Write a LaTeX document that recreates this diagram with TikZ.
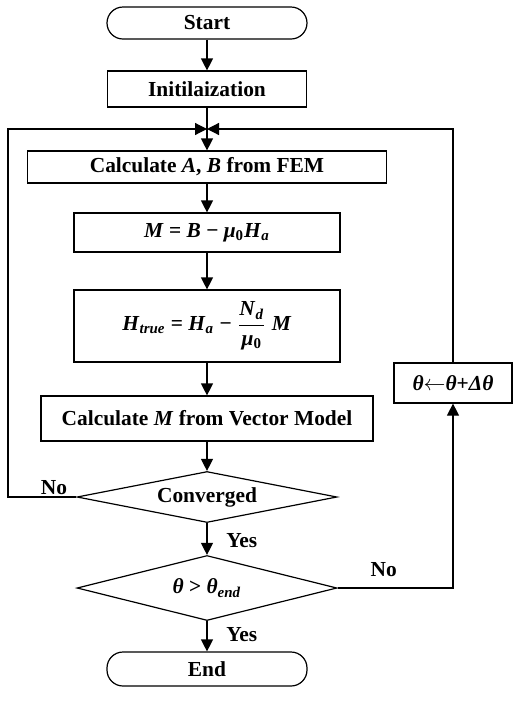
\documentclass[tikz,border=0pt]{standalone}
\usepackage{fontspec}
\setmainfont{Liberation Serif}
\usepackage{tikz}
\usetikzlibrary{arrows.meta,shapes.geometric}
\usetikzlibrary{positioning}
\tikzset{
    term/.style={
           rectangle, rounded corners=8pt,
           draw, line width=0.6pt,
           inner sep=0pt,
           },
}
\tikzset{
    proc/.style={
           rectangle,
           draw, line width=0.6pt,
           inner sep=0pt,
           },
}
\tikzset{
    decide/.style={
           diamond, aspect=5,
           draw, line width=0.6pt,
           inner sep=0pt,
           },
}
\tikzset{
    flow/.style={
           -{Triangle[width=6pt,length=6pt]},
           line width=0.6pt,
           },
}
\newcommand{\bi}[1]{\textit{#1}}

\begin{document}
\begin{tikzpicture}[x=0.5pt,y=-0.5pt,
    font=\bfseries\fontsize{10.7}{13}\selectfont]
\useasboundingbox (0,0) rectangle (514,703);
\node[term,minimum width=100pt,minimum height=16pt] (start) at (207,23) {Start};
\node[proc,minimum width=99.5pt,minimum height=18pt,below of = start,node distance=33pt] (init) {Initilaization};
\node[proc,minimum width=179.5pt,minimum height=16pt,below of = init,node distance=39pt] (calcAB) {Calculate \bi{A}, \bi{B} from FEM};
\node[proc,minimum width=133pt,minimum height=19.5pt,below of = calcAB,node distance=32.75pt] (magn) {\bi{M} = \bi{B} − \bi{μ}\textsubscript{0}\bi{H}\textsubscript{\bi{a}}};
\node[proc,minimum width=133pt,minimum height=36pt,below of = magn,node distance=46.75pt] (htrue) {\bi{H}\textsubscript{\bi{true}} = \bi{H}\textsubscript{\bi{a}} −
  $\displaystyle\frac{\mbox{\bi{N}\textsubscript{\bi{d}}}}{\mbox{\bi{μ}\textsubscript{0}}}$ \bi{M}};
\node[proc,minimum width=166pt,minimum height=22.5pt,below of = htrue,node distance=46.25pt] (calcM) {Calculate \bi{M} from Vector Model};
\node[decide,minimum width=130pt,minimum height=25.5pt,below of = calcM,node distance=39.25pt] (conv) {Converged};
\node[decide,minimum width=130pt,minimum height=32.5pt,below of = conv,node distance=45.5pt] (test) {\bi{θ} > \bi{θ}\textsubscript{\bi{end}}};
\node[term,minimum width=100pt,minimum height=17pt,below of = test,node distance=40.5pt] (finish) {End};
\node[proc,minimum width=59pt,minimum height=20pt] (update) at (453,383) {\bi{θ}$\leftarrow$\bi{θ}+\bi{Δθ}};

% loop corners
\coordinate (join) at (207,129);
\coordinate (back) at (8,497);

\draw[flow] (start) -- (init);
\draw[flow] (init) -- (calcAB);
\draw[flow] (calcAB) -- (magn);
\draw[flow] (magn) -- (htrue);
\draw[flow] (htrue) -- (calcM);
\draw[flow] (calcM) -- (conv);
\draw[flow] (conv) -- node[right=6pt,pos=0.55] {Yes} (test);
\draw[flow] (test) -- node[right=6pt,pos=0.45] {Yes} (finish);
\draw[flow] (conv.west) -- (back) |- (join);
\draw[flow] (test.east) -| node[pos=0.2,above=2pt] {No} (update.south);
\draw[flow] (update.north) |- (join);
\node[anchor=south,inner sep=1pt] (nolabel) at (54,497) {No};
\end{tikzpicture}
\end{document}
